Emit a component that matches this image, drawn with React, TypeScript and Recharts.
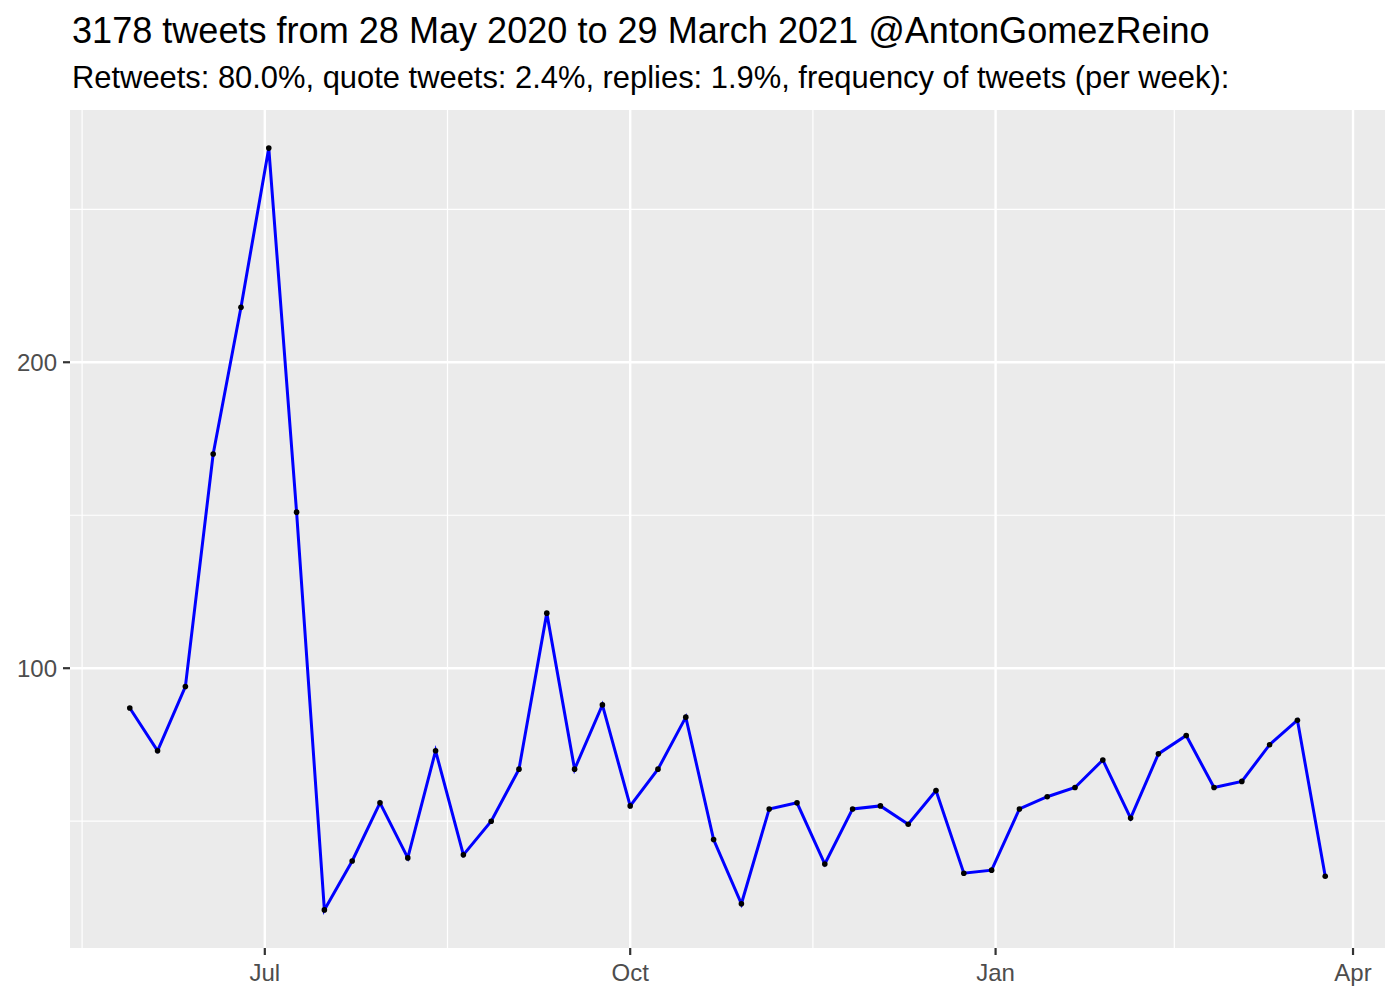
import React from 'react';
import { LineChart, Line, XAxis, YAxis, CartesianGrid } from 'recharts';

// weekly buckets (start date of each week)
const weeks = [
  '2020-05-28', '2020-06-04', '2020-06-11', '2020-06-18', '2020-06-25',
  '2020-07-02', '2020-07-09', '2020-07-16', '2020-07-23', '2020-07-30',
  '2020-08-06', '2020-08-13', '2020-08-20', '2020-08-27', '2020-09-03',
  '2020-09-10', '2020-09-17', '2020-09-24', '2020-10-01', '2020-10-08',
  '2020-10-15', '2020-10-22', '2020-10-29', '2020-11-05', '2020-11-12',
  '2020-11-19', '2020-11-26', '2020-12-03', '2020-12-10', '2020-12-17',
  '2020-12-24', '2020-12-31', '2021-01-07', '2021-01-14', '2021-01-21',
  '2021-01-28', '2021-02-04', '2021-02-11', '2021-02-18', '2021-02-25',
  '2021-03-04', '2021-03-11', '2021-03-18', '2021-03-25'
];

const tweetCounts = [
  87, 73, 94, 170, 218, 270, 151, 21, 37, 56,
  38, 73, 39, 50, 67, 118, 67, 88, 55, 67,
  84, 44, 23, 54, 56, 36, 54, 55, 49, 60,
  33, 34, 54, 58, 61, 70, 51, 72, 78, 61,
  63, 75, 83, 32
];

const xTickDates = ['2020-07-01', '2020-10-01', '2021-01-01', '2021-04-01'];
const xTickLabels = ['Jul', 'Oct', 'Jan', 'Apr'];
const xMinorDates = ['2020-05-16', '2020-08-16', '2020-11-16', '2021-02-15'];
const yTicks = [100, 200];
const yMinor = [50, 150, 250];

const toMs = (d: string) => {
  const [y, m, day] = d.split('-').map(Number);
  return Date.UTC(y, m - 1, day);
};

const data = weeks.map((w, i) => ({ t: toMs(w), n: tweetCounts[i] }));

const xMin = Math.min(...data.map((d) => d.t));
const xMax = Math.max(...data.map((d) => d.t));
const yMin = Math.min(...tweetCounts);
const yMax = Math.max(...tweetCounts);
const xPad = (xMax - xMin) * 0.05;
const yPad = (yMax - yMin) * 0.05;

const xTicks = xTickDates.map(toMs);
const xMinor = xMinorDates.map(toMs);

const FONT = '"Liberation Sans", Arial, Helvetica, sans-serif';

export default function App() {
  const tickFmt = (v: number) => {
    const idx = xTicks.indexOf(v);
    return idx >= 0 ? xTickLabels[idx] : '';
  };

  return (
    <div style={{ position: 'absolute', left: 0, top: 0, width: 1400, height: 1000, background: '#fff', fontFamily: FONT }}>
      <svg width={1400} height={110} style={{ position: 'absolute', left: 0, top: 0 }}>
        <text x={72} y={43} fontSize={36.1} fill="#000" fontFamily={FONT}>
          3178 tweets from 28 May 2020 to 29 March 2021 @AntonGomezReino
        </text>
        <text x={72} y={88} fontSize={30.9} fill="#000" fontFamily={FONT}>
          Retweets: 80.0%, quote tweets: 2.4%, replies: 1.9%, frequency of tweets (per week):
        </text>
      </svg>
      <div style={{ position: 'absolute', left: 0, top: 0 }}>
        <LineChart
          width={1400}
          height={1000}
          data={data}
          margin={{ top: 110, right: 15, bottom: 0, left: 0 }}
          style={{ fontFamily: FONT }}
        >
          <CartesianGrid
            fill="#EBEBEB"
            stroke="#FFFFFF"
            strokeWidth={1.2}
            horizontalValues={yMinor}
            verticalValues={xMinor}
          />
          <CartesianGrid
            stroke="#FFFFFF"
            strokeWidth={2.4}
            horizontalValues={yTicks}
            verticalValues={xTicks}
          />
          <XAxis
            dataKey="t"
            type="number"
            scale="linear"
            domain={[xMin - xPad, xMax + xPad]}
            allowDataOverflow
            ticks={xTicks}
            tickFormatter={tickFmt}
            interval={0}
            height={52}
            axisLine={false}
            tickLine={{ stroke: '#333333', strokeWidth: 2.2 }}
            tickSize={7}
            tickMargin={9}
            tick={{ fill: '#4D4D4D', fontSize: 24, fontFamily: FONT }}
          />
          <YAxis
            type="number"
            domain={[yMin - yPad, yMax + yPad]}
            allowDataOverflow
            ticks={yTicks}
            interval={0}
            width={70}
            axisLine={false}
            tickLine={{ stroke: '#333333', strokeWidth: 2.2 }}
            tickSize={7}
            tickMargin={6}
            tick={{ fill: '#4D4D4D', fontSize: 24, fontFamily: FONT }}
          />
          <Line
            type="linear"
            dataKey="n"
            stroke="#0000FF"
            strokeWidth={3}
            dot={{ r: 2.8, fill: '#000000', stroke: 'none' }}
            activeDot={false}
            isAnimationActive={false}
          />
        </LineChart>
      </div>
    </div>
  );
}
